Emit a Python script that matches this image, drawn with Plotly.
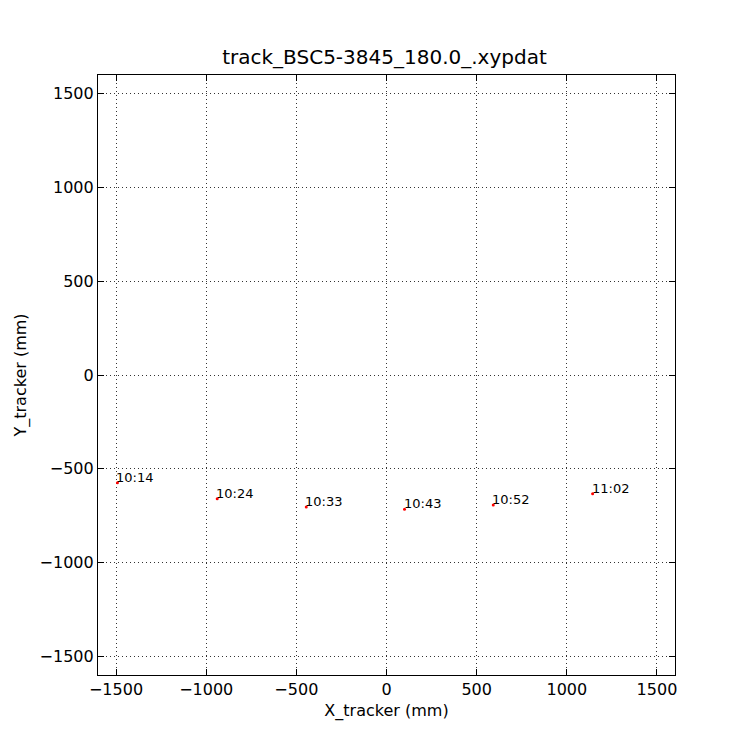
import plotly.graph_objects as go

x_vals = [-1492, -939, -445, 100, 592, 1143]
y_vals = [-574, -660, -704, -716, -693, -633]
labels = ["10:14", "10:24", "10:33", "10:43", "10:52", "11:02"]
tick_vals = [-1500, -1000, -500, 0, 500, 1000, 1500]
tick_text = ["\u22121500", "\u22121000", "\u2212500", "0", "500", "1000", "1500"]

fig = go.Figure()
fig.add_trace(go.Scatter(x=x_vals, y=y_vals, mode="markers",
                         marker=dict(color="red", size=3, line=dict(width=0)),
                         showlegend=False))
for xv, yv, t in zip(x_vals, y_vals, labels):
    fig.add_annotation(x=xv, y=yv, text=t, showarrow=False, xanchor="left", yanchor="bottom",
                       xshift=-3, yshift=-4,
                       font=dict(family="DejaVu Sans", size=13, color="black"))

axis_common = dict(
    tickvals=tick_vals, ticktext=tick_text, ticks="inside", ticklen=6, tickcolor="black",
    showline=True, linecolor="black", linewidth=1.2, mirror="allticks",
    showgrid=True, gridcolor="#333333", griddash="1px,3px", gridwidth=0.8,
    zeroline=False, tickfont=dict(family="DejaVu Sans", size=16, color="black"),
)
fig.update_xaxes(range=[-1600, 1600], title=dict(text="X_tracker (mm)", font=dict(family="DejaVu Sans", size=16, color="black"), standoff=6), **axis_common)
fig.update_yaxes(range=[-1600, 1600], title=dict(text="Y_tracker (mm)", font=dict(family="DejaVu Sans", size=16, color="black"), standoff=8), **axis_common)

fig.update_layout(
    width=750, height=750,
    margin=dict(l=86, r=83, t=67, b=83),
    paper_bgcolor="white", plot_bgcolor="white",
    title=dict(text="track_BSC5-3845_180.0_.xypdat", x=0.502, xanchor="center", y=0.925, yanchor="bottom",
               font=dict(family="DejaVu Sans", size=20, color="black")),
)
fig.write_html("out.html")
